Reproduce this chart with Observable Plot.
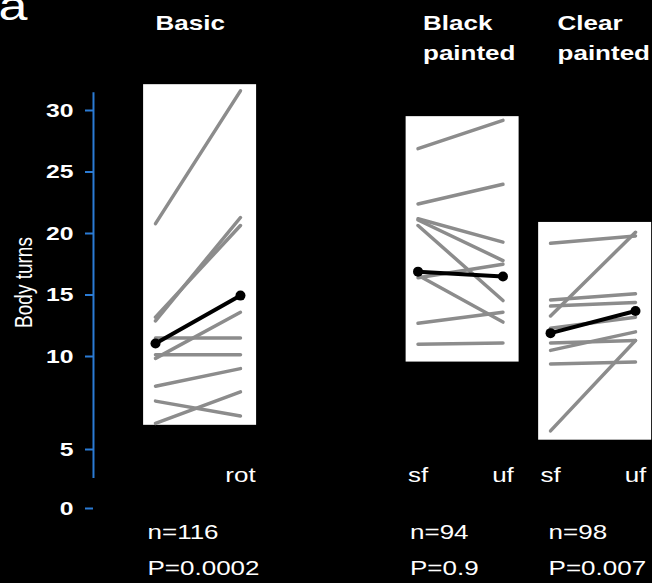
<!DOCTYPE html>
<html><head><meta charset="utf-8">
<script src="https://cdn.jsdelivr.net/npm/d3@7"></script>
<script src="https://cdn.jsdelivr.net/npm/@observablehq/plot@0.6"></script>
<style>
html,body{margin:0;padding:0;background:#000;}
</style></head><body><div id="chart"></div>
<script>
// ---- data ----
const groups = ["Basic", "Black\npainted", "Clear\npainted"];
const conditionLabels = [["", "rot"], ["sf", "uf"], ["sf", "uf"]];
const sampleSizes = [116, 94, 98];
const pValues = ["0.0002", "0.9", "0.007"];
const basicPairs = [[20.8,31.6],[12.9,21.3],[13.2,20.65],[9.9,13.6],[11.5,11.5],[10.15,10.15],[8.4,9.35],[7.6,6.8],[6.4,8.1]];
const blackPairs = [[26.9,29.2],[22.4,24.0],[21.2,19.3],[21.1,17.8],[20.65,14.55],[16.4,17.5],[16.6,12.8],[12.7,13.6],[11.0,11.1]];
const clearPairs = [[19.2,19.8],[13.3,20.1],[14.6,15.1],[14.1,14.4],[12.3,13.2],[11.1,11.3],[10.5,12.0],[9.6,9.7],[6.0,11.3]];
const meanPairs = [[11.05,14.95],[16.9,16.5],[11.9,13.7]];
const panelBottom = [6.3, 9.7, 5.5];
const panelTop = [32.1, 29.5, 20.9];
const yTicks = [0, 5, 10, 15, 20, 25, 30];
const axisSpan = [2.55, 31.45];

// ---- layout (not data) ----
const groupOffset = [0, 3.09, 4.65];
const titleNudge = [0, 5, 7];
const statNudge = [-8, -8, -2];
const blue = "#2b7bd4";
const gray = "#8c8c8c";
const stretch = 1.3;

const allPairs = [basicPairs, blackPairs, clearPairs];
const rows = [];
allPairs.forEach((pairs, g) => pairs.forEach((p, i) => p.forEach((v, c) =>
  rows.push({id: g + "-" + i, x: groupOffset[g] + c, y: v}))));
const means = [];
meanPairs.forEach((p, g) => p.forEach((v, c) => means.push({id: g, x: groupOffset[g] + c, y: v})));
const panels = groups.map((name, g) => ({x1: groupOffset[g] - 0.14, x2: groupOffset[g] + 1.19, y1: panelBottom[g], y2: panelTop[g]}));
const tickXs = [], tickLab = new Map();
conditionLabels.forEach((labs, g) => labs.forEach((l, c) => { if (l) { const v = groupOffset[g] + c; tickXs.push(v); tickLab.set(v, l); } }));

const W = 652, H = 583, mTop = 80, mBottom = 128, mLeft = 93;
const frameMid = (mTop + H - mBottom) / 2;

const marks = [
  Plot.rect(panels, {x1: "x1", x2: "x2", y1: "y1", y2: "y2", fill: "white"}),
  Plot.line(rows, {x: "x", y: "y", z: "id", stroke: gray, strokeWidth: 3.5}),
  Plot.line(means, {x: "x", y: "y", z: "id", stroke: "black", strokeWidth: 4}),
  Plot.dot(means, {x: "x", y: "y", r: 5, fill: "black"}),
  Plot.ruleX([-0.73], {y1: axisSpan[0], y2: axisSpan[1], stroke: blue, strokeWidth: 2}),
  Plot.axisY({ticks: yTicks, tickSize: 8, tickPadding: 12, stroke: blue, strokeWidth: 2, fill: "white", fontWeight: "bold", fontSize: 19, label: null}),
  Plot.axisX({ticks: tickXs, tickFormat: d => tickLab.get(d), tickSize: 0, tickPadding: 12, fill: "white", fontSize: 20, label: null}),
  Plot.text(["Body turns"], {frameAnchor: "left", textAnchor: "middle", rotate: -90, dx: 24 - mLeft, dy: 282 - frameMid, fill: "white", fontSize: 19}),
  Plot.text(["a"], {frameAnchor: "top-left", textAnchor: "start", lineAnchor: "middle", dx: -2 - mLeft, dy: 7 - mTop, fill: "white", fontSize: 40})
];
groups.forEach((name, g) => {
  marks.push(Plot.text([name], {x: groupOffset[g], frameAnchor: "top", textAnchor: "start", lineAnchor: "top", lineHeight: 1.5, dx: titleNudge[g], dy: 8 - mTop, fill: "white", fontWeight: "bold", fontSize: 20}));
  marks.push(Plot.text([`n=${sampleSizes[g]}\nP=${pValues[g]}`], {x: groupOffset[g], frameAnchor: "bottom", textAnchor: "start", lineAnchor: "middle", lineHeight: 1.8, dx: statNudge[g], dy: 545 - (H - mBottom), fill: "white", fontSize: 20}));
});

const chart = Plot.plot({
  width: W, height: H,
  marginTop: mTop, marginBottom: mBottom, marginLeft: mLeft, marginRight: 0,
  style: {background: "black", color: "white", fontFamily: "'Liberation Sans', Arial, sans-serif", overflow: "visible"},
  x: {type: "linear", domain: [0, 5.65], range: [155, 635]},
  y: {type: "linear", domain: [0, 5, 10, 30], range: [508, 449, 356, 110]},
  marks
});
// the reference's lettering is horizontally wide: stretch each text about its anchor
chart.querySelectorAll("text").forEach(t => {
  const tr = t.getAttribute("transform");
  if (tr) {
    t.setAttribute("transform", tr + (tr.includes("rotate") ? ` scale(1,${stretch})` : ` scale(${stretch},1)`));
  } else {
    const x = +t.getAttribute("x") || 0, y = +t.getAttribute("y") || 0;
    t.setAttribute("transform", `translate(${x},${y}) scale(${stretch},1) translate(${-x},${-y})`);
  }
});
document.getElementById("chart").append(chart);
</script></body></html>
